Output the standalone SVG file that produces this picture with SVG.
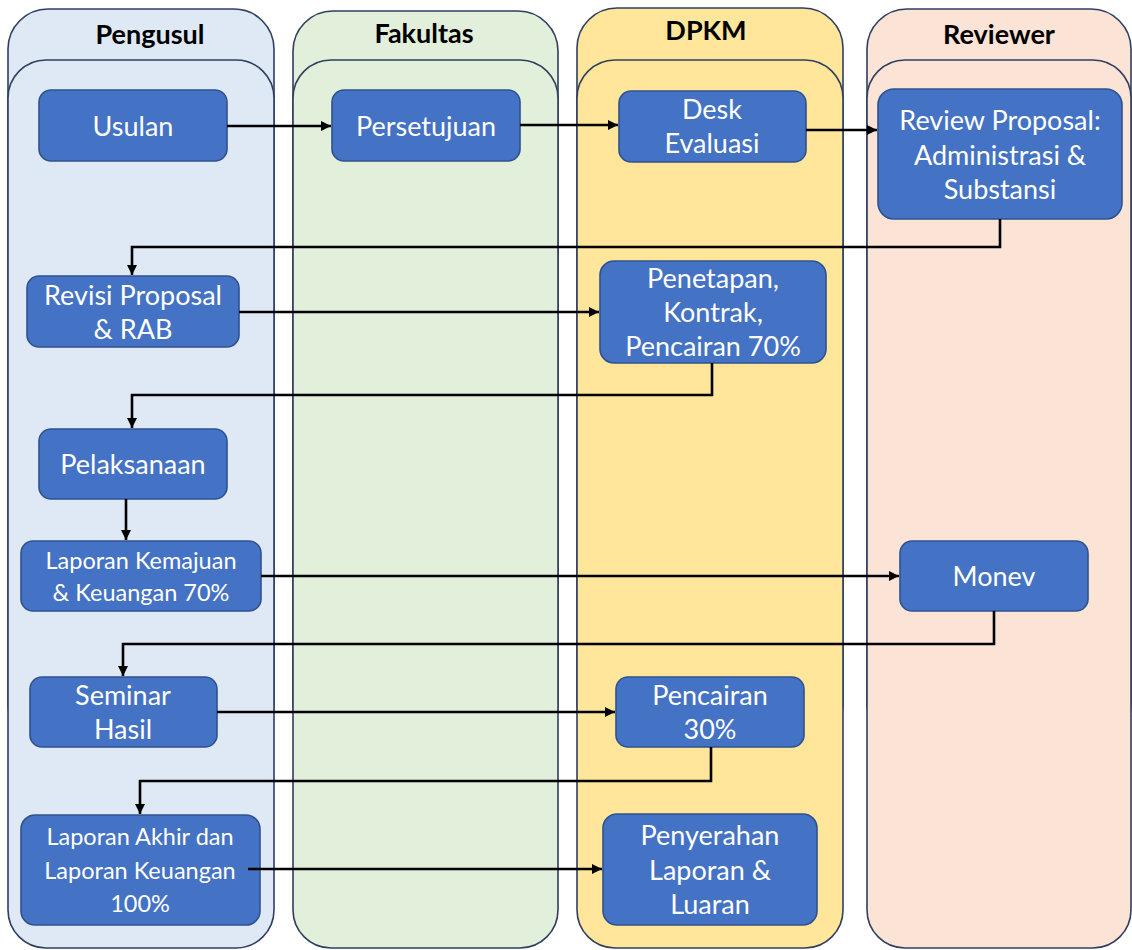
<svg xmlns="http://www.w3.org/2000/svg" width="1132" height="950" viewBox="0 0 1132 950">
<defs>
<marker id="ah" viewBox="0 0 10 10" refX="10" refY="5" markerWidth="11" markerHeight="10" markerUnits="userSpaceOnUse" orient="auto">
<path d="M0,0 L10,5 L0,10 z" fill="#000"/>
</marker>
<style>
.lane{stroke:#2E3F60;stroke-width:1.6}
.hdr{font-family:Lato,"Liberation Sans",sans-serif;font-weight:bold;font-size:27px;fill:#000;text-anchor:middle}
.box{fill:#4472C4;stroke:#2F528F;stroke-width:1.6}
.t{font-family:Lato,"Open Sans",sans-serif;font-size:27px;fill:#fff;text-anchor:middle}
.s{font-size:23.5px}
.c{fill:none;stroke:#000;stroke-width:2.6}
</style>
</defs>
<rect width="1132" height="950" fill="#fff"/>
<g id="lane-pengusul">
<rect class="lane" x="8" y="9" width="266" height="736" rx="40" fill="#DEE9F5"/>
<rect class="lane" x="8" y="60" width="266" height="888" rx="38" fill="#DEE9F5"/>
<text class="hdr" x="150" y="44">Pengusul</text>
</g>
<g id="lane-fakultas">
<rect class="lane" x="293" y="11" width="265" height="734" rx="40" fill="#E2EFDA"/>
<rect class="lane" x="293" y="60" width="265" height="888" rx="38" fill="#E2EFDA"/>
<text class="hdr" x="424" y="43">Fakultas</text>
</g>
<g id="lane-dpkm">
<rect class="lane" x="577" y="8" width="266" height="737" rx="40" fill="#FFE69A"/>
<rect class="lane" x="577" y="60" width="266" height="888" rx="38" fill="#FFE69A"/>
<text class="hdr" x="706" y="40">DPKM</text>
</g>
<g id="lane-reviewer">
<rect class="lane" x="867" y="9" width="264" height="736" rx="40" fill="#FBE4D5"/>
<rect class="lane" x="867" y="60" width="264" height="888" rx="38" fill="#FBE4D5"/>
<text class="hdr" x="999" y="44">Reviewer</text>
</g>
<g id="n-usulan"><rect class="box" x="39" y="90" width="188" height="71" rx="12"/><text class="t" x="133" y="136">Usulan</text></g>
<g id="n-persetujuan"><rect class="box" x="332" y="90" width="188" height="71" rx="12"/><text class="t" x="426" y="136">Persetujuan</text></g>
<g id="n-desk"><rect class="box" x="619" y="91" width="187" height="71" rx="12"/><text class="t" x="712" y="119">Desk</text><text class="t" x="712" y="153">Evaluasi</text></g>
<g id="n-review"><rect class="box" x="878" y="89" width="244" height="130" rx="16"/><text class="t" x="1000" y="130">Review Proposal:</text><text class="t" x="1000" y="165">Administrasi &amp;</text><text class="t" x="1000" y="199">Substansi</text></g>
<g id="n-revisi"><rect class="box" x="27" y="276" width="212" height="71" rx="12"/><text class="t" x="133" y="305">Revisi Proposal</text><text class="t" x="133" y="339">&amp; RAB</text></g>
<g id="n-penetapan"><rect class="box" x="600" y="261" width="226" height="102" rx="14"/><text class="t" x="713" y="288">Penetapan,</text><text class="t" x="713" y="322">Kontrak,</text><text class="t" x="713" y="356">Pencairan 70%</text></g>
<g id="n-pelaksanaan"><rect class="box" x="39" y="429" width="188" height="70" rx="12"/><text class="t" x="133" y="474">Pelaksanaan</text></g>
<g id="n-kemajuan"><rect class="box" x="21" y="541" width="240" height="70" rx="12"/><text class="t s" x="141" y="569">Laporan Kemajuan</text><text class="t s" x="141" y="601">&amp; Keuangan 70%</text></g>
<g id="n-monev"><rect class="box" x="900" y="541" width="188" height="70" rx="12"/><text class="t" x="994" y="586">Monev</text></g>
<g id="n-seminar"><rect class="box" x="30" y="677" width="187" height="70" rx="12"/><text class="t" x="123" y="705">Seminar</text><text class="t" x="123" y="739">Hasil</text></g>
<g id="n-pencairan30"><rect class="box" x="616" y="677" width="188" height="70" rx="12"/><text class="t" x="710" y="705">Pencairan</text><text class="t" x="710" y="739">30%</text></g>
<g id="n-akhir"><rect class="box" x="21" y="815" width="239" height="110" rx="14"/><text class="t s" x="140" y="845">Laporan Akhir dan</text><text class="t s" x="140" y="879">Laporan Keuangan</text><text class="t s" x="140" y="912">100%</text></g>
<g id="n-penyerahan"><rect class="box" x="603" y="814" width="214" height="111" rx="14"/><text class="t" x="710" y="845">Penyerahan</text><text class="t" x="710" y="880">Laporan &amp;</text><text class="t" x="710" y="914">Luaran</text></g>
<g id="connectors">
<path class="c" d="M227,126 H331" marker-end="url(#ah)"/>
<path class="c" d="M520,125 H618" marker-end="url(#ah)"/>
<path class="c" d="M806,130 H877" marker-end="url(#ah)"/>
<path class="c" d="M1000,219 V247 H132 V275" marker-end="url(#ah)"/>
<path class="c" d="M239,312 H599" marker-end="url(#ah)"/>
<path class="c" d="M712,363 V395 H132 V428" marker-end="url(#ah)"/>
<path class="c" d="M126,499 V540" marker-end="url(#ah)"/>
<path class="c" d="M261,576 H899" marker-end="url(#ah)"/>
<path class="c" d="M994,611 V644 H123 V676" marker-end="url(#ah)"/>
<path class="c" d="M217,712 H615" marker-end="url(#ah)"/>
<path class="c" d="M711,747 V781 H140 V814" marker-end="url(#ah)"/>
<path class="c" d="M248,869 H602" marker-end="url(#ah)"/>
</g>
</svg>
